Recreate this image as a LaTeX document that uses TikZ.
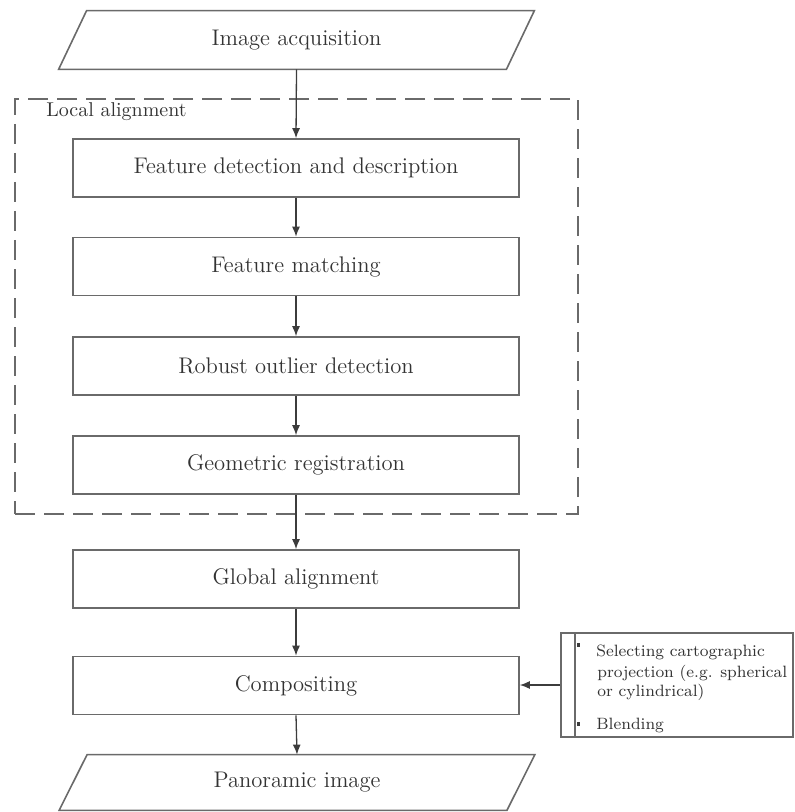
\documentclass[tikz,border=0pt]{standalone}
\usetikzlibrary{arrows.meta,calc}
\definecolor{linegray}{HTML}{6A6A6A}
\definecolor{arrowgray}{HTML}{3C3C3C}
\definecolor{textgray}{HTML}{333333}
\tikzset{
  stepbox/.style={draw=linegray, line width=0.8pt, minimum width=223pt,
    minimum height=29pt, inner sep=0pt, text=textgray,
    font=\fontsize{11.3}{13}\selectfont},
  iobox/.style={minimum width=237.5pt, minimum height=29pt, inner sep=0pt,
    text=textgray, font=\fontsize{11.3}{13}\selectfont},
  ioframe/.style={draw=linegray, line width=0.8pt, line join=miter},
  groupbox/.style={draw=linegray, line width=0.8pt, dash pattern=on 10pt off 4.5pt},
  notebox/.style={draw=linegray, line width=0.8pt, minimum width=116pt,
    minimum height=52pt, inner sep=0pt},
  noteline/.style={anchor=base west, inner sep=0pt, text=textgray,
    font=\fontsize{8.2}{10}\selectfont},
  flow/.style={draw=arrowgray, line width=0.65pt,
    -{Latex[length=5pt,width=4pt]}},
}
\begin{document}
\begin{tikzpicture}[x=0.5pt,y=-0.5pt]
\useasboundingbox (0,0) rectangle (795,812);

% input parallelogram
\node[iobox] (acq) at (296.5,40) {Image acquisition};
\draw[ioframe] (acq.south west) -- ($(acq.north west)+(28,0)$)
  -- (acq.north east) -- ($(acq.south east)-(28,0)$) -- cycle;

% local alignment group
\node[groupbox, minimum width=281.5pt, minimum height=207.5pt, inner sep=0pt]
  (local) at (296.5,306.5) {};
\node[anchor=west, inner sep=0pt, text=textgray, font=\fontsize{10}{12}\selectfont]
  (loclabel) at (46,112) {Local alignment};

% processing steps
\node[stepbox] (b1) at (296,168) {Feature detection and description};
\node[stepbox] (b2) at (296,266.5) {Feature matching};
\node[stepbox] (b3) at (296,366) {Robust outlier detection};
\node[stepbox] (b4) at (296,465) {Geometric registration};
\node[stepbox] (glob) at (296,579) {Global alignment};
\node[stepbox] (comp) at (296,685.5) {Compositing};

% output parallelogram
\node[iobox, minimum height=27.5pt] (pano) at (297,782.5) {Panoramic image};
\draw[ioframe] (pano.south west) -- ($(pano.north west)+(28,0)$)
  -- (pano.north east) -- ($(pano.south east)-(28,0)$) -- cycle;

% compositing notes
\node[notebox] (side) at (677,685) {};
\draw[linegray, line width=0.8pt] ([xshift=7.5pt]side.north west)
  -- ([xshift=7.5pt]side.south west);
\fill[arrowgray] (577,643) rectangle (580,647);
\fill[arrowgray] (577,722) rectangle (580,726);
\node[noteline] (s1) at (596,656) {Selecting cartographic};
\node[noteline] (s2) at (597,677) {projection (e.g. spherical};
\node[noteline] (s3) at (597,696) {or cylindrical)};
\node[noteline] (s4) at (596,729) {Blending};

% connectors
\draw[flow] (acq.south) -- (b1.north);
\draw[flow] (b1.south) -- (b2.north);
\draw[flow] (b2.south) -- (b3.north);
\draw[flow] (b3.south) -- (b4.north);
\draw[flow] (b4.south) -- (glob.north);
\draw[flow] (glob.south) -- (comp.north);
\draw[flow] (comp.south) -- (pano.north);
\draw[flow] (side.west) -- (side.west -| comp.east);
\end{tikzpicture}
\end{document}
